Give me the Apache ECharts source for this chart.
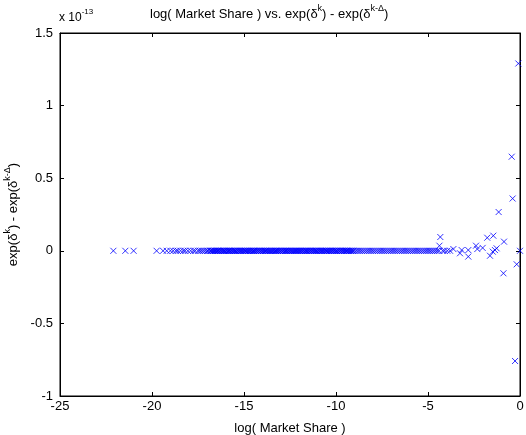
<!DOCTYPE html>
<html>
<head>
<meta charset="utf-8">
<script src="https://cdn.jsdelivr.net/npm/echarts@6/dist/echarts.min.js"></script>
<style>
  html, body { margin: 0; padding: 0; background: #fff; }
  #chart { width: 526px; height: 435px; }
</style>
</head>
<body>
<div id="chart"></div>
<script>
// y values are in units of 1e-13
// points sitting on zero (the long band)
var bandShare = [
  -22.1, -21.45, -21.0,
  -19.75, -19.4, -19.2, -19.0, -18.85, -18.7, -18.6, -18.45, -18.3, -18.2, -18.05, -17.9,
  -17.75, -17.65, -17.5, -17.4, -17.3, -17.2, -17.1, -17.0, -16.95, -16.85, -16.8, -16.7,
  -16.6, -16.55, -16.45, -16.4, -16.3, -16.2, -16.1, -16.05, -15.95, -15.85, -15.8, -15.7,
  -15.6, -15.5, -15.45, -15.35, -15.25, -15.15, -15.05, -14.95, -14.9, -14.8, -14.7, -14.6,
  -14.5, -14.45, -14.35, -14.25, -14.15, -14.05, -13.95, -13.85, -13.8, -13.7, -13.6, -13.5,
  -13.4, -13.3, -13.25, -13.15, -13.05, -12.95, -12.85, -12.75, -12.7, -12.6, -12.5, -12.4,
  -12.3, -12.2, -12.15, -12.05, -11.95, -11.85, -11.75, -11.65, -11.6, -11.5, -11.4, -11.3,
  -11.2, -11.1, -11.05, -10.95, -10.85, -10.75, -10.65, -10.55, -10.5, -10.4, -10.3, -10.2,
  -10.1, -10.0, -9.95, -9.85, -9.75, -9.65, -9.55, -9.45, -9.4, -9.3, -9.2, -9.1, -9.0,
  -8.9, -8.8, -8.7, -8.6, -8.5, -8.4, -8.3, -8.2, -8.1, -8.0, -7.9, -7.8, -7.7, -7.6, -7.5,
  -7.4, -7.3, -7.2, -7.1, -7.0, -6.9, -6.8, -6.7, -6.6, -6.5, -6.4, -6.3, -6.2, -6.1, -6.0,
  -5.9, -5.8, -5.7, -5.6, -5.5, -5.4, -5.3, -5.2, -5.1, -5.0, -4.9, -4.8, -4.7, -4.6, -4.5,
  -4.4, -4.2, -4.1, -3.95, -3.8
];
// the thickest stretch of the band, -17 .. -9
var bandShareDense = [
  -16.77, -16.67, -16.57, -16.47, -16.37, -16.27, -16.17, -16.07, -15.97, -15.87,
  -15.77, -15.67, -15.57, -15.47, -15.37, -15.27, -15.17, -15.07, -14.97, -14.87,
  -14.77, -14.67, -14.57, -14.47, -14.37, -14.27, -14.17, -14.07, -13.97, -13.87,
  -13.77, -13.67, -13.57, -13.47, -13.37, -13.27, -13.17, -13.07, -12.97, -12.87,
  -12.77, -12.67, -12.57, -12.47, -12.37, -12.27, -12.17, -12.07, -11.97, -11.87,
  -11.77, -11.67, -11.57, -11.47, -11.37, -11.27, -11.17, -11.07, -10.97, -10.87,
  -10.77, -10.67, -10.57, -10.47, -10.37, -10.27, -10.17, -10.07, -9.97, -9.87,
  -9.77, -9.67, -9.57, -9.47, -9.37, -9.27, -9.17, -9.07
];
// scattered points near zero share
var spreadShare = [-4.33, -4.38, -3.62, -3.17, -3.26, -2.81, -2.81, -2.39, -2.32, -2.03,
  -1.78, -1.45, -0.87, -1.27, -1.36, -1.48, -1.63, -0.9, -0.18, 0, -1.16, -0.40, -0.45, -0.09, -0.27];
var spreadDiff = [0.095, 0.035, 0.012, 0.005, -0.017, 0.005, -0.04, 0.035, 0.012, 0.02,
  0.09, 0.104, 0.063, 0.017, 0.005, -0.006, -0.034, -0.155, -0.093, 0, 0.267, 0.36, 0.648, 1.29, -0.759];

var xTicks = { min: -25, max: 0, interval: 5 };
var yTicks = { min: -1, max: 1.5, interval: 0.5 };

var points = bandShare.concat(bandShareDense).map(function (x) { return [x, 0]; });
spreadShare.forEach(function (x, i) { points.push([x, spreadDiff[i]]); });

var font = 'Liberation Sans, Arial, sans-serif';
// normal text pushed down, superscript at the top of the line
var richText = {
  n: { fontFamily: font, fontSize: 13, color: '#000', padding: [4, 0, 0, 0], verticalAlign: 'bottom' },
  s: { fontFamily: font, fontSize: 9, color: '#000', verticalAlign: 'top' }
};

var myChart = echarts.init(document.getElementById('chart'));
myChart.setOption({
  animation: false,
  title: {
    text: '{n|log( Market Share ) vs. exp(δ}{s|k}{n|) - exp(δ}{s|k-Δ}{n|)}',
    left: 150,
    top: 4,
    padding: 0,
    textStyle: { fontFamily: font, fontSize: 13, fontWeight: 'normal', color: '#000', rich: richText }
  },
  graphic: [{
    type: 'text',
    left: 59,
    top: 8,
    style: {
      text: '{n|x 10}{s|-13}', fill: '#000',
      rich: {
        n: { fontFamily: font, fontSize: 12, fill: '#000', padding: [4, 0, 0, 0], verticalAlign: 'bottom' },
        s: { fontFamily: font, fontSize: 8, fill: '#000', verticalAlign: 'top' }
      }
    }
  }],
  grid: {
    left: 60, right: 6, top: 33, bottom: 39, outerBoundsMode: 'none',
    show: true, borderColor: '#000', borderWidth: 1
  },
  xAxis: [{
    type: 'value', min: xTicks.min, max: xTicks.max, interval: xTicks.interval,
    name: 'log( Market Share )', nameLocation: 'middle', nameGap: 26,
    nameTextStyle: { fontFamily: font, fontSize: 13, color: '#000' },
    axisLine: { onZero: false, lineStyle: { color: '#000' } },
    axisTick: { inside: true, length: 4, lineStyle: { color: '#000' } },
    axisLabel: { fontFamily: font, fontSize: 13, color: '#000', margin: 4 },
    splitLine: { show: false }
  }, {
    type: 'value', position: 'top', min: xTicks.min, max: xTicks.max, interval: xTicks.interval,
    axisLine: { onZero: false, lineStyle: { color: '#000' } },
    axisTick: { inside: true, length: 4, lineStyle: { color: '#000' } },
    axisLabel: { show: false }, splitLine: { show: false }
  }],
  yAxis: [{
    type: 'value', min: yTicks.min, max: yTicks.max, interval: yTicks.interval,
    name: '{n|exp(δ}{s|k}{n|) - exp(δ}{s|k-Δ}{n|)}', nameLocation: 'middle', nameGap: 34, nameRotate: 90,
    nameTextStyle: { fontFamily: font, fontSize: 13, color: '#000', rich: richText },
    axisLine: { onZero: false, lineStyle: { color: '#000' } },
    axisTick: { inside: true, length: 4, lineStyle: { color: '#000' } },
    axisLabel: { fontFamily: font, fontSize: 13, color: '#000', margin: 7 },
    splitLine: { show: false }
  }, {
    type: 'value', position: 'right', min: yTicks.min, max: yTicks.max, interval: yTicks.interval,
    axisLine: { onZero: false, lineStyle: { color: '#000' } },
    axisTick: { inside: true, length: 4, lineStyle: { color: '#000' } },
    axisLabel: { show: false }, splitLine: { show: false }
  }],
  series: [{
    type: 'scatter',
    data: points,
    symbol: 'path://M0,0L10,10M10,0L0,10',
    symbolSize: 6,
    itemStyle: { color: 'none', borderColor: '#0000ff', borderWidth: 1 },
    emphasis: { disabled: true }
  }]
});
</script>
</body>
</html>
